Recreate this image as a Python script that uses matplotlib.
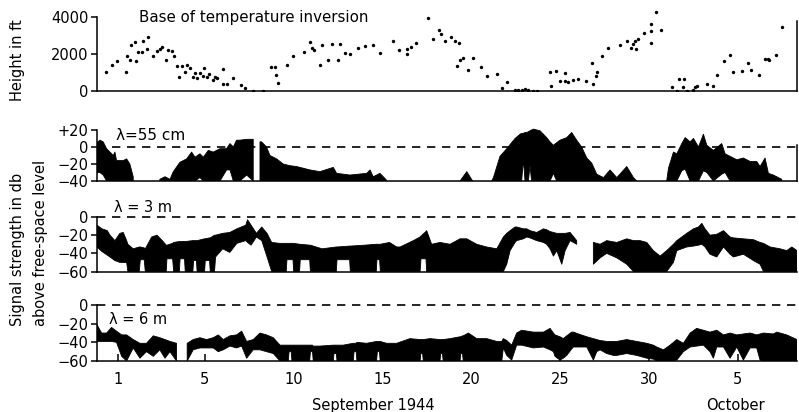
import numpy as np
import matplotlib
matplotlib.use("Agg")
from matplotlib import pyplot as plt
from matplotlib import transforms

plt.rcParams['font.family'] = ['DejaVu Sans']
nan = np.nan

# x axis: day of the record (Sept 1 = 1, Oct 5 = 35)
tick_pos = [0.1, 5, 10, 15, 20, 25, 30, 35]
tick_lab = ['1', '5', '10', '15', '20', '25', '30', '5']
x_min, x_max = -1.08, 38.35

# base of temperature inversion (day, height in ft)
inv_day = [-0.58, -0.26, 0.06, 0.55, 0.62, 0.77, 0.81, 1.04, 1.11, 1.24, 1.43, 1.53, 1.71, 1.81,
           2.05, 2.28, 2.46, 2.56, 2.78, 2.93, 3.12, 3.25, 3.40, 3.54, 3.69, 3.87, 4.00, 4.15,
           4.31, 4.44, 4.57, 4.72, 4.87, 4.94, 5.09, 5.24, 5.43, 5.56, 5.66, 6.00, 6.00, 6.22,
           6.60, 7.01, 7.25, 7.69, 8.29, 8.70, 8.94, 9.00, 9.09, 9.60, 9.98, 10.58, 10.92, 11.01,
           11.14, 11.48, 11.57, 11.95, 12.14, 12.51, 12.61, 12.89, 13.17, 13.64, 14.01, 14.48,
           14.86, 15.57, 15.95, 16.36, 16.36, 16.59, 16.89, 17.58, 17.83, 18.20, 18.28, 18.52,
           18.86, 19.08, 19.31, 19.18, 19.37, 19.55, 19.84, 20.08, 20.53, 20.91, 21.43, 21.71,
           22.00, 22.47, 22.66, 22.84, 23.03, 23.22, 23.46, 23.69, 24.44, 24.48, 24.78, 25.00,
           25.28, 25.28, 25.47, 25.75, 26.03, 26.46, 26.78, 26.84, 27.03, 27.10, 27.38, 27.72,
           28.38, 28.76, 28.98, 29.13, 29.23, 29.28, 29.41, 29.73, 30.11, 30.11, 30.11, 30.41,
           30.67, 31.29, 31.57, 31.72, 31.99, 31.95, 32.17, 32.51, 32.61, 32.70, 33.30, 33.64,
           33.83, 34.24, 34.58, 34.77, 35.23, 35.61, 35.74, 36.23, 36.55, 36.74, 36.80, 37.17,
           37.49]
inv_ft = [1070, 1395, 1645, 1055, 1880, 1700, 2510, 2635, 1610, 2095, 2115, 2690, 2275, 2905,
          1915, 2150, 2275, 2365, 1700, 2205, 2150, 1915, 1340, 800, 1340, 1070, 1395, 1250,
          765, 980, 745, 1015, 835, 1250, 800, 945, 620, 765, 745, 1215, 405, 405,
          710, 350, 205, 45, 45, 1305, 1305, 890, 440, 1430, 1880, 2095, 2655, 2330,
          2205, 1430, 2510, 1700, 2545, 1665, 2545, 2060, 2005, 2330, 2420, 2510,
          2060, 2690, 2240, 2285, 2000, 2410, 2590, 3940, 2810, 3310, 3080, 2735,
          2900, 2720, 2590, 1370, 1690, 1820, 1150, 1820, 1330, 830, 920, 200,
          520, 70, 55, 70, 110, 55, 20, 20, 1025, 290, 1100, 560,
          970, 560, 520, 610, 665, 560, 1510, 395, 845, 1025, 1925, 2320,
          2500, 2720, 2320, 2540, 2720, 2285, 2825, 3150, 3620, 3220, 2590, 4265,
          3275, 250, 35, 650, 650, 250, 20, 70, 250, 305, 380, 290,
          880, 1640, 1960, 1060, 1100, 1550, 1150, 880, 1745, 1730, 1690, 1960,
          3455]

# lambda = 55 cm: upper and lower edge of the recorded band (db)
d55 = [-1.08, -0.92, -0.73, -0.54, -0.16, -0.07, 0.02, 0.40, 0.59, 0.77, 0.96, nan,
       2.46, 2.75, 3.03, 3.22, 3.59, 3.97, 4.25, 4.44, 4.72, 4.91, 5.19, 5.47, 5.85, 6.22,
       6.41, 6.60, 6.78, 6.97, 7.35, 7.72, nan,
       8.10, 8.19, 8.47, 8.66, 9.04, 9.41, 9.79, 10.16, 10.54, 10.92, 11.48, 12.23, 12.42,
       13.17, 14.11, 14.30, 14.48, 14.86, 15.23, nan,
       19.37, 19.75, 20.08, nan,
       21.15, 21.25, 21.62, 22.00, 22.47, 22.75, 22.84, 22.94, 23.03, 23.13, 23.22, 23.31,
       23.40, 23.50, 23.88, 24.25, 24.44, 24.63, 24.81, 25.00, 25.38, 25.66, 25.94, 26.22,
       26.51, 26.79, 27.07, 27.45, 27.82, 28.20, 28.76, 29.14, 29.32, nan,
       31.01, 31.11, 31.39, 31.58, 31.86, 32.05, 32.33, 32.52, 32.80, 33.08, 33.27, 33.64,
       34.11, 34.30, 34.58, 34.96, 35.33, 35.71, 36.08, 36.27, 36.55, 36.74, 37.02, 37.49]
top55 = [5, 8, 6, -2, -10, -6, -16, -16, -14, -20, -35, nan,
         -38, -35, -38, -29, -18, -14, -6, -12, -8, -12, -4, -6, -2, -2,
         4, 0, 8, 8, 9, 9, nan,
         6, 6, 0, -10, -14, -20, -22, -23, -25, -27, -29, -24, -31,
         -33, -31, -27, -35, -31, -39, nan,
         -40, -29, -40, nan,
         -40, -36, -11, -2, 10, 15, 16, 16, 17, 17, 18, 19,
         20, 21, 19, 11, 6, 2, 5, 8, 11, 17, 8, 0,
         -13, -19, -32, -36, -27, -36, -23, -36, -40, nan,
         -40, -25, -6, -8, 4, 11, 6, 10, 0, 15, 2, -4,
         4, -8, -11, -15, -13, -17, -17, -23, -13, -31, -33, -38]
bot55 = [-30, -30, -33, -40, -40, -40, -40, -40, -40, -40, -40, nan,
         -40, -40, -40, -40, -40, -40, -40, -40, -36, -40, -40, -40, -40, -27,
         -27, -40, -40, -40, -33, -40, nan,
         -40, -40, -40, -40, -40, -40, -40, -40, -40, -40, -40, -40, -40,
         -40, -40, -40, -40, -40, -40, nan,
         -40, -40, -40, nan,
         -40, -40, -40, -40, -40, -40, -40, -15, -40, -40, -40, -22,
         -40, -40, -40, -40, -40, -31, -40, -40, -40, -40, -40, -40,
         -40, -40, -40, -40, -40, -40, -40, -40, -40, nan,
         -40, -40, -40, -40, -28, -26, -40, -40, -40, -28, -30, -40,
         -32, -30, -40, -40, -40, -40, -40, -40, -40, -40, -40, -40]

# lambda = 3 m
d3 = [-1.08, -0.80, -0.50, -0.35, -0.07, 0.21, 0.40, 0.59, 0.66, 0.96,
      1.30, 1.36, 1.58, 1.64, 2.00, 2.30, 2.60, 2.82, 2.86, 3.18,
      3.24, 3.56, 3.60, 3.85, 3.89, 4.32, 4.36, 4.52, 4.56, 4.98,
      5.02, 5.26, 5.30, 5.54, 5.60, 6.00, 6.40, 6.80, 7.30, 7.40,
      7.60, 7.90, 8.20, 8.50, 8.76, 9.20, 9.58, 9.62, 9.96, 10.00,
      10.33, 10.37, 10.90, 10.94, 11.60, 12.40, 12.44, 13.15, 13.19, 14.00,
      14.65, 14.69, 14.84, 14.88, 15.40, 15.80, 15.99, 16.74, 17.12, 17.17,
      17.45, 17.49, 17.77, 18.24, 18.81, 19.37, 19.75, 20.31, 20.87, 21.44,
      21.81, 22.00, 22.19, 22.47, 22.56, 22.94, 23.13, 23.31, 23.69, 24.07,
      24.25, 24.44, 24.63, 24.82, 25.10, 25.29, 25.57, 25.94, nan,
      26.88, 27.26, 27.63, 28.20, 28.76, 29.14, 29.51, 29.89, 30.26, 30.64,
      31.01, 31.39, 31.58, 32.14, 32.52, 32.80, 32.99, 33.17, 33.45, 33.83,
      34.21, 34.58, 34.77, 35.33, 35.90, 36.27, 36.46, 36.84, 37.40, 37.77,
      38.06, 38.35]
top3 = [-9, -13, -15, -20, -26, -18, -17, -26, -30, -35,
        -33, -33, -34, -35, -22, -20, -26, -31, -31, -29,
        -28, -27, -27, -27, -27, -26, -26, -26, -26, -24,
        -24, -23, -23, -20, -20, -18, -17, -13, -9, -3,
        -9, -18, -11, -18, -28, -29, -29, -29, -29, -29,
        -30, -30, -31, -31, -35, -33, -33, -32, -32, -31,
        -30, -30, -30, -30, -28, -33, -33, -26, -22, -21,
        -16, -15, -30, -28, -30, -24, -24, -30, -33, -35,
        -22, -18, -15, -11, -11, -13, -13, -15, -17, -13,
        -14, -16, -17, -18, -18, -18, -17, -26, nan,
        -28, -30, -26, -28, -24, -26, -26, -28, -37, -43,
        -37, -30, -26, -18, -13, -11, -7, -13, -20, -19,
        -15, -22, -23, -24, -25, -28, -29, -33, -35, -37,
        -33, -37]
bot3 = [-33, -38, -42, -44, -48, -50, -50, -50, -60, -60,
        -60, -47, -47, -60, -60, -60, -60, -60, -46, -46,
        -60, -60, -46, -46, -60, -60, -48, -48, -60, -60,
        -48, -48, -60, -60, -44, -35, -39, -29, -26, -28,
        -31, -22, -26, -44, -60, -60, -60, -47, -47, -60,
        -60, -47, -47, -60, -60, -60, -47, -47, -60, -60,
        -60, -47, -47, -60, -60, -60, -60, -60, -60, -46,
        -46, -60, -60, -60, -60, -60, -60, -60, -60, -60,
        -60, -52, -37, -28, -26, -24, -22, -23, -26, -28,
        -30, -35, -43, -37, -52, -37, -26, -30, nan,
        -52, -45, -40, -45, -52, -60, -60, -60, -60, -60,
        -60, -50, -37, -33, -32, -31, -30, -33, -41, -44,
        -33, -41, -44, -41, -48, -52, -60, -60, -60, -60,
        -60, -60]

# lambda = 6 m
d6 = [-1.08, -0.82, -0.54, -0.26, 0.02, 0.31, 0.59, 0.96, 1.34, 1.71,
      2.09, 2.46, 2.75, 3.03, 3.40, nan,
      4.00, 4.34, 4.72, 5.09, 5.47, 5.75, 6.03, 6.41, 6.78, 7.07,
      7.35, 7.72, 8.10, 8.47, 8.85,
      9.23, 9.70, 9.74, 9.86, 9.90, 10.35, 10.90, 10.94, 11.06, 11.10,
      11.48, 12.23, 12.27, 12.40, 12.44, 12.79, 13.36, 13.40, 13.52, 13.56,
      14.11, 14.67, 14.71, 14.83, 14.87, 15.23, 15.80, 16.55, 17.12, 17.16,
      17.26, 17.30, 17.68, 18.24, 18.28, 18.38, 18.42, 18.81, 19.37, 19.41,
      19.51, 19.55, 19.84, 20.31, 20.87, 21.44, 21.72,
      21.81, 22.00, 22.28, 22.56, 22.84, 23.50, 24.07, 24.44, 24.63, 24.72,
      25.00, 25.19, 25.38, 25.66, 25.76, 26.04, 26.51, 26.88, 27.07, 27.26,
      27.63, 28.01, 28.20, 28.76, 29.32, 29.89, 30.26, 30.45, 30.83, 31.20,
      31.58, 31.95, 32.33, 32.70, 33.08, 33.45, 33.64, 33.83, 34.21, 34.58,
      34.96, 35.33, 35.71, 36.08, 36.27, 36.46, 37.02, 37.21, 37.77, 38.35]
top6 = [-21, -30, -30, -24, -28, -32, -32, -37, -41, -41,
        -33, -35, -37, -39, -41, nan,
        -41, -37, -35, -37, -35, -32, -37, -33, -32, -28,
        -39, -37, -30, -32, -35,
        -43, -43, -43, -43, -43, -43, -43, -43, -43, -44,
        -44, -43, -43, -43, -43, -43, -41, -41, -41, -40,
        -41, -39, -39, -39, -39, -41, -41, -36, -37, -37,
        -37, -37, -36, -37, -37, -37, -37, -36, -34, -34,
        -33, -33, -30, -36, -36, -39, -39,
        -36, -38, -43, -30, -27, -29, -29, -25, -30, -32,
        -34, -36, -33, -29, -29, -31, -34, -36, -37, -38,
        -39, -39, -39, -37, -39, -41, -43, -45, -48, -43,
        -37, -41, -30, -25, -27, -29, -28, -27, -32, -30,
        -32, -31, -30, -32, -31, -30, -31, -29, -32, -37]
bot6 = [-39, -39, -39, -39, -40, -55, -60, -46, -57, -50,
        -55, -48, -57, -50, -60, nan,
        -60, -48, -46, -46, -46, -50, -48, -44, -46, -44,
        -57, -48, -48, -50, -52,
        -60, -60, -50, -50, -60, -60, -60, -50, -50, -60,
        -60, -60, -52, -52, -60, -60, -60, -50, -50, -60,
        -60, -60, -50, -50, -60, -60, -60, -60, -60, -52,
        -52, -60, -60, -60, -52, -52, -60, -60, -60, -52,
        -52, -60, -60, -60, -60, -60, -60,
        -46, -54, -59, -43, -43, -46, -45, -48, -50, -55,
        -59, -57, -54, -47, -45, -45, -45, -59, -50, -48,
        -52, -54, -54, -52, -54, -57, -58, -60, -60, -60,
        -59, -50, -45, -44, -43, -50, -57, -45, -45, -57,
        -45, -59, -46, -46, -59, -60, -60, -60, -60, -60]

fig = plt.figure(figsize=(7.99, 4.12), dpi=100)
L, W = 0.1214, 0.8761
ax1 = fig.add_axes([L, 0.778, W, 0.199])
ax2 = fig.add_axes([L, 0.5607, W, 0.128])
ax3 = fig.add_axes([L, 0.341, W, 0.1345])
ax4 = fig.add_axes([L, 0.1238, W, 0.138])

for ax in (ax1, ax2, ax3, ax4):
    ax.set_xlim(x_min, x_max)
    ax.spines['top'].set_visible(False)
    ax.spines['right'].set_visible(False)
    for s in ('left', 'bottom', 'right'):
        ax.spines[s].set_linewidth(1.1)
    ax.tick_params(axis='y', direction='out', length=4, width=1.1, pad=2, labelsize=10.5)
    if ax is not ax4:
        ax.set_xticks([])

# top panel
ax1.scatter(inv_day, inv_ft, s=6, color='black', lw=0)
ax1.set_ylim(0, 4400)
ax1.set_yticks([0, 2000, 4000])
ax1.spines['left'].set_bounds(0, 4000)
ax1.spines['right'].set_visible(True)
ax1.spines['right'].set_bounds(0, 3800)
ax1.text(1.28, 3950, 'Base of temperature inversion', fontsize=10.8, va='center')

# 55 cm
ax2.fill_between(d55, bot55, top55, color='black', lw=0.6, edgecolor='black')
ax2.axhline(0, color='black', lw=1.2, ls=(0, (5, 4)))
ax2.set_ylim(-40, 22)
ax2.set_yticks([-40, -20, 0, 20])
ax2.set_yticklabels(['\u221240', '\u221220', '0', '+20'])
ax2.spines['left'].set_bounds(-40, 20)
ax2.spines['right'].set_visible(True)
ax2.spines['right'].set_bounds(-40, 2)
ax2.text(0.0, 14, '\u03bb=55 cm', fontsize=11, va='center')

# 3 m
ax3.fill_between(d3, bot3, top3, color='black', lw=0.6, edgecolor='black')
ax3.axhline(0, color='black', lw=1.2, ls=(0, (5, 4)))
ax3.set_ylim(-60, 1)
ax3.set_yticks([-60, -40, -20, 0])
ax3.set_yticklabels(['\u221260', '\u221240', '\u221220', '0'])
ax3.spines['left'].set_bounds(-60, 0)
ax3.text(-0.1, 11, '\u03bb = 3 m', fontsize=10.5, va='center')

# 6 m
ax4.fill_between(d6, bot6, top6, color='black', lw=0.6, edgecolor='black')
ax4.axhline(0, color='black', lw=1.2, ls=(0, (5, 4)))
ax4.set_ylim(-60, 1)
ax4.set_yticks([-60, -40, -20, 0])
ax4.set_yticklabels(['\u221260', '\u221240', '\u221220', '0'])
ax4.spines['left'].set_bounds(-60, 0)
ax4.text(-0.4, -15, '\u03bb = 6 m', fontsize=10.5, va='center')
ax4.set_xticks(tick_pos)
ax4.set_xticklabels(tick_lab)
ax4.tick_params(axis='x', direction='in', length=5, width=1.1, pad=8, labelsize=10.5)

tr = transforms.blended_transform_factory(ax4.transData, fig.transFigure)
ax4.text(14.5, 0.004, 'September 1944', transform=tr, ha='center', fontsize=10.5)
ax4.text(34.86, 0.004, 'October', transform=tr, ha='center', fontsize=10.5)

fig.text(0.022, 0.855, 'Height in ft', rotation=90, ha='center', va='center', fontsize=10.5)
fig.text(0.022, 0.395, 'Signal strength in db', rotation=90, ha='center', va='center', fontsize=10.5)
fig.text(0.051, 0.41, 'above free-space level', rotation=90, ha='center', va='center', fontsize=10.5)

fig.savefig('out.png', dpi=100)
